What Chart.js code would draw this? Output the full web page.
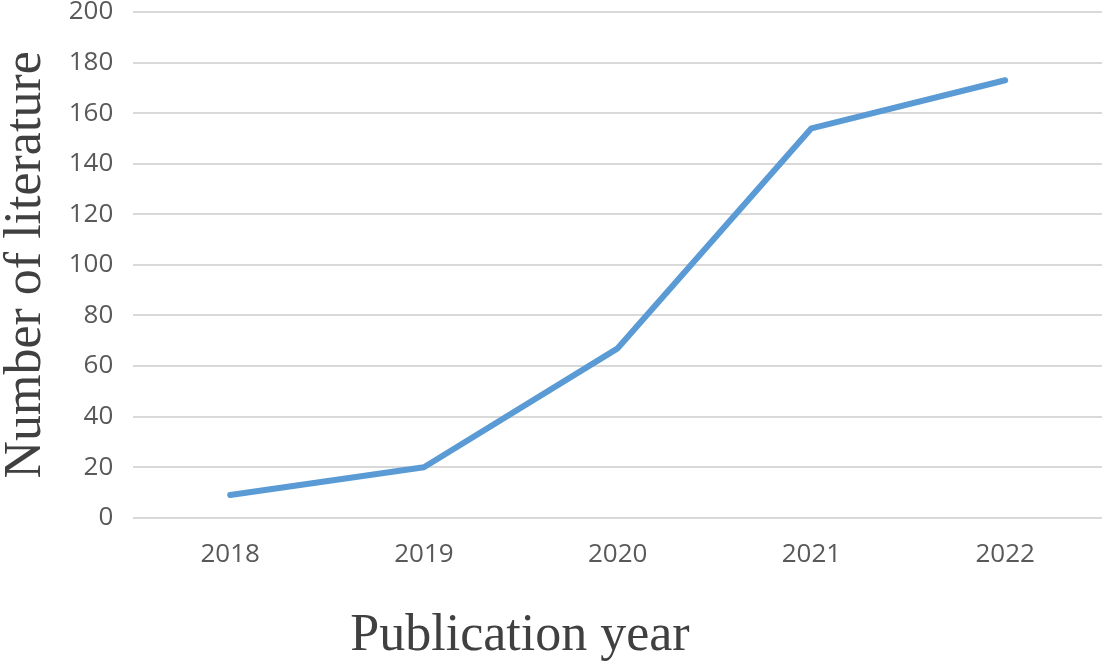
<!DOCTYPE html>
<html><head><meta charset="utf-8">
<script src="https://cdn.jsdelivr.net/npm/chart.js@4"></script>
<style>html,body{margin:0;padding:0;background:#fff;overflow:hidden}#wrap{width:1105px;height:665px;overflow:hidden;position:relative}#c{position:absolute;left:0;top:-21px}</style>
</head><body><div id="wrap"><canvas id="c" width="1105" height="686"></canvas></div>
<script>
const categories = ['2018','2019','2020','2021','2022'];
const literatureCounts = [9, 20, 67, 154, 173];
const yTickValues = [0,20,40,60,80,100,120,140,160,180,200];
const xTitleText = 'Publication year';
const yTitleText = 'Number of literature';

const xTitlePlugin = {
  id: 'xTitle',
  afterDraw(chart) {
    const ctx = chart.ctx;
    ctx.save();
    ctx.font = '52px "Liberation Serif"';
    ctx.fillStyle = '#404040';
    ctx.textAlign = 'center';
    ctx.textBaseline = 'alphabetic';
    ctx.fillText(xTitleText, 520, 671);
    ctx.restore();
  }
};

new Chart(document.getElementById('c'), {
  type: 'line',
  data: {
    labels: categories,
    datasets: [{
      data: literatureCounts,
      borderColor: '#5B9BD5',
      borderWidth: 6,
      pointRadius: 0,
      tension: 0,
      fill: false,
      borderCapStyle: 'round',
      borderJoinStyle: 'round'
    }]
  },
  plugins: [xTitlePlugin],
  options: {
    responsive: false,
    animation: false,
    layout: { padding: { top: 0, right: 3, left: 0, bottom: 74 } },
    plugins: { legend: { display: false }, tooltip: { enabled: false } },
    scales: {
      x: {
        offset: true,
        grid: { display: false, drawTicks: false },
        border: { display: false },
        ticks: { color: '#595959', font: { family: 'Open Sans', size: 26, lineHeight: 1.2 }, padding: 21 },
        title: { display: false }
      },
      y: {
        min: 0, max: 200,
        afterBuildTicks: (axis) => { axis.ticks = yTickValues.map(v => ({ value: v })); },
        grid: { color: '#D9D9D9', lineWidth: 2, drawTicks: false },
        border: { display: false },
        ticks: { color: '#595959', font: { family: 'Open Sans', size: 26, lineHeight: 1.0 }, padding: 20 },
        title: { display: true, text: yTitleText, color: '#404040',
                 font: { family: 'Liberation Serif', size: 52, lineHeight: 0.86 }, padding: { top: 4, bottom: 0 } }
      }
    }
  }
});
</script></body></html>
